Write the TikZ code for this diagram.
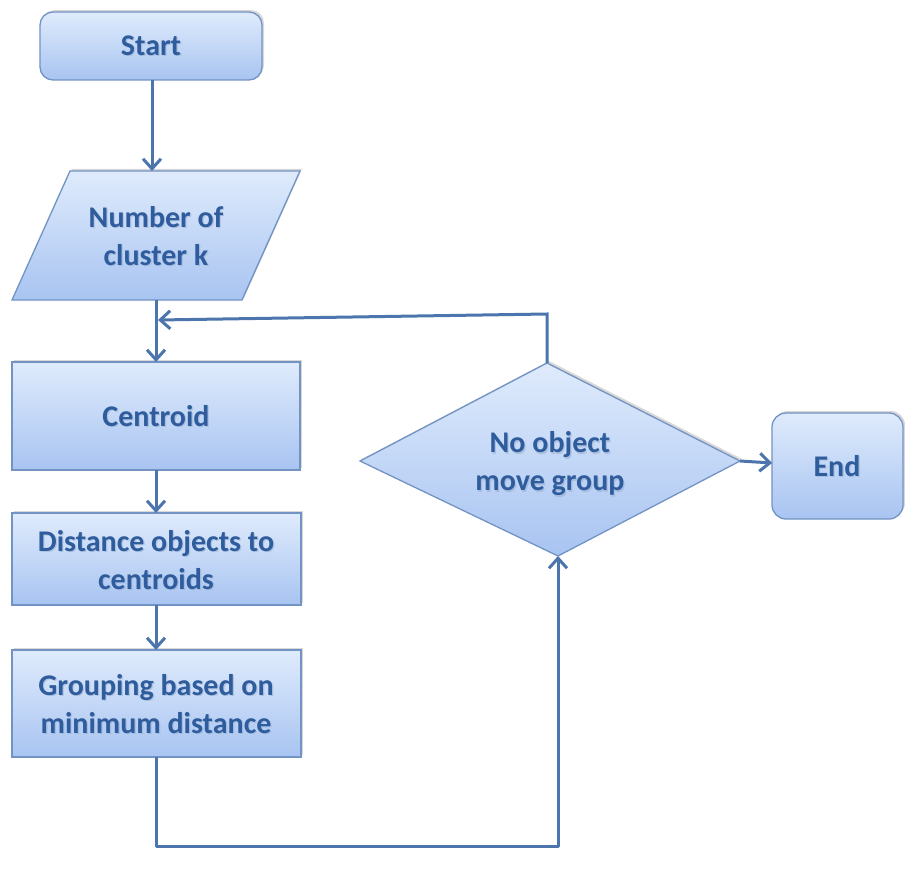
\documentclass[tikz,border=0pt]{standalone}
\usepackage{fontspec}
\setmainfont{Carlito}
\usetikzlibrary{arrows.meta,shadows,calc}
\definecolor{boxtop}{HTML}{DFEBFC}
\definecolor{boxbot}{HTML}{A8C4F1}
\definecolor{boxline}{HTML}{7393C4}
\definecolor{flowline}{HTML}{4C75AE}
\definecolor{txtblue}{HTML}{2F5C9C}
\tikzset{
  softshadow/.style={drop shadow={shadow xshift=2pt,shadow yshift=2pt,opacity=0.25,fill=black!60}},
  shapebox/.style={top color=boxtop,bottom color=boxbot,draw=boxline,line width=1.3pt,softshadow},
  label/.style={text=txtblue,font=\fontsize{30}{38}\selectfont\bfseries,align=center,inner sep=0pt},
  labelhalo/.style={label,text=txtblue!55,text opacity=0.45},
  flow/.style={draw=flowline,line width=3pt,-{Straight Barb[length=10pt,width=18pt,line width=3pt]}}
}
% text with a soft dark halo underneath
\newcommand{\haloed}[3]{%
  \node[labelhalo] at ($(#2)+(1.2,1.2)$) {#3};
  \node[label] (#1) at (#2) {#3};}
\begin{document}
\begin{tikzpicture}[x=1pt,y=-1pt]
\useasboundingbox[fill=white] (0,0) rectangle (905,872);

% start terminal
\path[shapebox,rounded corners=13pt] (40,12) rectangle (262,80);
\haloed{start}{151,46}{Start}
\coordinate (startS) at (152,80);

% input: number of clusters
\path[shapebox] (70,171) -- (300,171) -- (242,300) -- (12,300) -- cycle;
\haloed{input}{156,236}{Number of\\cluster k}
\coordinate (inputN) at (152,171);
\coordinate (inputS) at (156,300);

% process steps
\path[shapebox] (12,362) rectangle (300,470);
\haloed{centroid}{156,416}{Centroid}
\coordinate (centN) at (156,362);
\coordinate (centS) at (156,470);

\path[shapebox] (12,513) rectangle (301,605);
\haloed{dist}{156,560}{Distance objects to\\centroids}
\coordinate (distN) at (156,513);
\coordinate (distS) at (156,605);

\path[shapebox] (12,650) rectangle (301,757);
\haloed{group}{156,704}{Grouping based on\\minimum distance}
\coordinate (groupN) at (156,650);
\coordinate (groupS) at (156,757);

% decision
\path[shapebox] (547,363) -- (740,461) -- (558,556) -- (360,461) -- cycle;
\haloed{decide}{550,464}{No object\\move group}
\coordinate (decN) at (547,363);
\coordinate (decS) at (558,556);
\coordinate (decE) at (740,461);

% end terminal
\path[shapebox,rounded corners=14pt] (772,413) rectangle (903,519);
\haloed{finish}{837,466}{End}
\coordinate (endW) at (772,463);

% connectors
\coordinate (loopTop) at (547,314);
\coordinate (merge) at (158,320);
\coordinate (loopL) at (156,846);
\coordinate (loopR) at (558,846);

\draw[flow] (startS) -- (inputN);
\draw[flow] (inputS) -- (centN);
\draw[flow] (decN) -- (loopTop) -- (merge);
\draw[flow] (centS) -- (distN);
\draw[flow] (distS) -- (groupN);
\draw[flow,line join=round] (groupS) -- (loopL) -- (loopR) -- (decS);
\draw[flow] (decE) -- (endW);
\end{tikzpicture}
\end{document}
